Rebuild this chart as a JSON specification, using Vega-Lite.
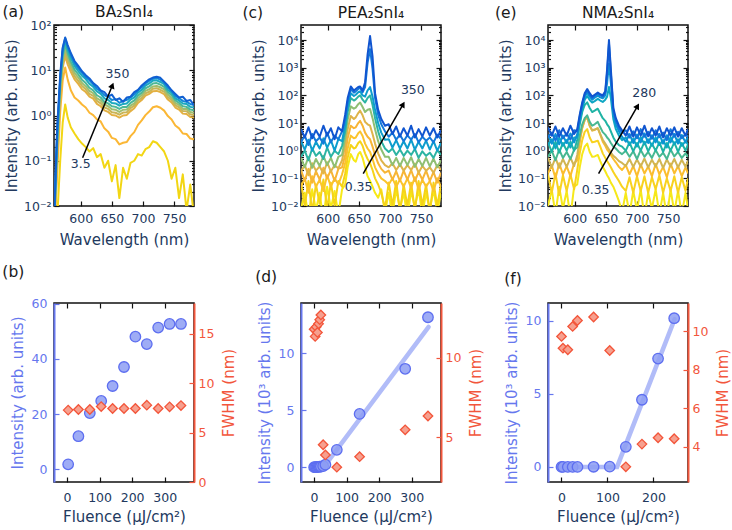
{
"$schema":"https://vega.github.io/schema/vega-lite/v6.json",
"background":"white",
"padding":{"left":1,"top":4,"right":4,"bottom":2},
"config":{"font":"DejaVu Sans","view":{"stroke":"#111","strokeWidth":1.5},
"axis":{"grid":false,"domain":false,"labelFontSize":12.5,"titleFontSize":15,"titleFontWeight":"normal","labelColor":"#22395e","titleColor":"#22395e","tickColor":"#111","tickWidth":1.2}},
"datasets":{
"A":[
{"k":0,"w":557,"i":0.001},{"k":0,"w":562,"i":0.005},{"k":0,"w":567,"i":0.1},{"k":0,"w":571,"i":0.7},{"k":0,"w":575,"i":1.75},{"k":0,"w":579,"i":0.9},{"k":0,"w":584,"i":0.55},{"k":0,"w":590,"i":0.4},{"k":0,"w":596,"i":0.3},{"k":0,"w":602,"i":0.24},{"k":0,"w":608,"i":0.2},{"k":0,"w":614,"i":0.16},{"k":0,"w":620,"i":0.19},{"k":0,"w":626,"i":0.12},{"k":0,"w":632,"i":0.14},{"k":0,"w":638,"i":0.07},{"k":0,"w":644,"i":0.1},{"k":0,"w":650,"i":0.035},{"k":0,"w":656,"i":0.08},{"k":0,"w":662,"i":0.015},{"k":0,"w":668,"i":0.07},{"k":0,"w":674,"i":0.04},{"k":0,"w":680,"i":0.09},{"k":0,"w":686,"i":0.1},{"k":0,"w":692,"i":0.14},{"k":0,"w":698,"i":0.13},{"k":0,"w":704,"i":0.18},{"k":0,"w":710,"i":0.2},{"k":0,"w":716,"i":0.27},{"k":0,"w":722,"i":0.25},{"k":0,"w":728,"i":0.2},{"k":0,"w":734,"i":0.16},{"k":0,"w":740,"i":0.1},{"k":0,"w":746,"i":0.04},{"k":0,"w":752,"i":0.07},{"k":0,"w":758,"i":0.015},{"k":0,"w":764,"i":0.05},{"k":0,"w":770,"i":0.008},{"k":0,"w":776,"i":0.03},{"k":0,"w":782,"i":0.006},
{"k":1,"w":557,"i":0.002},{"k":1,"w":562,"i":0.05},{"k":1,"w":567,"i":1.2},{"k":1,"w":571,"i":6},{"k":1,"w":575,"i":11.5},{"k":1,"w":579,"i":6.2},{"k":1,"w":584,"i":3.6},{"k":1,"w":590,"i":2.5},{"k":1,"w":596,"i":2.15},{"k":1,"w":602,"i":1.75},{"k":1,"w":608,"i":1.5},{"k":1,"w":614,"i":1.15},{"k":1,"w":620,"i":1.02},{"k":1,"w":626,"i":0.82},{"k":1,"w":632,"i":0.74},{"k":1,"w":638,"i":0.52},{"k":1,"w":644,"i":0.44},{"k":1,"w":650,"i":0.32},{"k":1,"w":656,"i":0.3},{"k":1,"w":662,"i":0.23},{"k":1,"w":668,"i":0.25},{"k":1,"w":674,"i":0.26},{"k":1,"w":680,"i":0.35},{"k":1,"w":686,"i":0.43},{"k":1,"w":692,"i":0.62},{"k":1,"w":698,"i":0.78},{"k":1,"w":704,"i":1.02},{"k":1,"w":710,"i":1.22},{"k":1,"w":716,"i":1.52},{"k":1,"w":722,"i":1.6},{"k":1,"w":728,"i":1.48},{"k":1,"w":734,"i":1.28},{"k":1,"w":740,"i":0.97},{"k":1,"w":746,"i":0.82},{"k":1,"w":752,"i":0.6},{"k":1,"w":758,"i":0.52},{"k":1,"w":764,"i":0.4},{"k":1,"w":770,"i":0.39},{"k":1,"w":776,"i":0.31},{"k":1,"w":782,"i":0.3},
{"k":2,"w":557,"i":0.002},{"k":2,"w":562,"i":0.12},{"k":2,"w":567,"i":2.6},{"k":2,"w":571,"i":11.5},{"k":2,"w":575,"i":20.5},{"k":2,"w":579,"i":13.5},{"k":2,"w":584,"i":9.2},{"k":2,"w":590,"i":6.3},{"k":2,"w":596,"i":5.0},{"k":2,"w":602,"i":3.8},{"k":2,"w":608,"i":3.3},{"k":2,"w":614,"i":2.6},{"k":2,"w":620,"i":2.35},{"k":2,"w":626,"i":1.8},{"k":2,"w":632,"i":1.6},{"k":2,"w":638,"i":1.3},{"k":2,"w":644,"i":1.2},{"k":2,"w":650,"i":1.02},{"k":2,"w":656,"i":1.0},{"k":2,"w":662,"i":0.9},{"k":2,"w":668,"i":1.0},{"k":2,"w":674,"i":1.03},{"k":2,"w":680,"i":1.25},{"k":2,"w":686,"i":1.45},{"k":2,"w":692,"i":1.9},{"k":2,"w":698,"i":2.2},{"k":2,"w":704,"i":2.75},{"k":2,"w":710,"i":3.0},{"k":2,"w":716,"i":3.45},{"k":2,"w":722,"i":3.5},{"k":2,"w":728,"i":3.3},{"k":2,"w":734,"i":2.95},{"k":2,"w":740,"i":2.25},{"k":2,"w":746,"i":1.95},{"k":2,"w":752,"i":1.5},{"k":2,"w":758,"i":1.35},{"k":2,"w":764,"i":1.1},{"k":2,"w":770,"i":1.08},{"k":2,"w":776,"i":0.93},{"k":2,"w":782,"i":0.9},
{"k":3,"w":557,"i":0.003},{"k":3,"w":562,"i":0.15},{"k":3,"w":567,"i":3.2},{"k":3,"w":571,"i":14},{"k":3,"w":575,"i":25},{"k":3,"w":579,"i":16.5},{"k":3,"w":584,"i":11},{"k":3,"w":590,"i":7.4},{"k":3,"w":596,"i":5.8},{"k":3,"w":602,"i":4.5},{"k":3,"w":608,"i":3.8},{"k":3,"w":614,"i":3.0},{"k":3,"w":620,"i":2.7},{"k":3,"w":626,"i":2.1},{"k":3,"w":632,"i":1.85},{"k":3,"w":638,"i":1.5},{"k":3,"w":644,"i":1.4},{"k":3,"w":650,"i":1.18},{"k":3,"w":656,"i":1.15},{"k":3,"w":662,"i":1.04},{"k":3,"w":668,"i":1.16},{"k":3,"w":674,"i":1.18},{"k":3,"w":680,"i":1.45},{"k":3,"w":686,"i":1.65},{"k":3,"w":692,"i":2.15},{"k":3,"w":698,"i":2.45},{"k":3,"w":704,"i":3.1},{"k":3,"w":710,"i":3.35},{"k":3,"w":716,"i":3.9},{"k":3,"w":722,"i":4.0},{"k":3,"w":728,"i":3.7},{"k":3,"w":734,"i":3.35},{"k":3,"w":740,"i":2.55},{"k":3,"w":746,"i":2.2},{"k":3,"w":752,"i":1.7},{"k":3,"w":758,"i":1.52},{"k":3,"w":764,"i":1.25},{"k":3,"w":770,"i":1.24},{"k":3,"w":776,"i":1.06},{"k":3,"w":782,"i":1.02},
{"k":4,"w":557,"i":0.003},{"k":4,"w":562,"i":0.2},{"k":4,"w":567,"i":4},{"k":4,"w":571,"i":17},{"k":4,"w":575,"i":30},{"k":4,"w":579,"i":19.5},{"k":4,"w":584,"i":13},{"k":4,"w":590,"i":8.7},{"k":4,"w":596,"i":6.9},{"k":4,"w":602,"i":5.2},{"k":4,"w":608,"i":4.4},{"k":4,"w":614,"i":3.5},{"k":4,"w":620,"i":3.1},{"k":4,"w":626,"i":2.4},{"k":4,"w":632,"i":2.15},{"k":4,"w":638,"i":1.75},{"k":4,"w":644,"i":1.6},{"k":4,"w":650,"i":1.38},{"k":4,"w":656,"i":1.34},{"k":4,"w":662,"i":1.2},{"k":4,"w":668,"i":1.34},{"k":4,"w":674,"i":1.36},{"k":4,"w":680,"i":1.65},{"k":4,"w":686,"i":1.85},{"k":4,"w":692,"i":2.4},{"k":4,"w":698,"i":2.8},{"k":4,"w":704,"i":3.5},{"k":4,"w":710,"i":3.8},{"k":4,"w":716,"i":4.4},{"k":4,"w":722,"i":4.5},{"k":4,"w":728,"i":4.2},{"k":4,"w":734,"i":3.8},{"k":4,"w":740,"i":2.9},{"k":4,"w":746,"i":2.45},{"k":4,"w":752,"i":1.9},{"k":4,"w":758,"i":1.7},{"k":4,"w":764,"i":1.4},{"k":4,"w":770,"i":1.4},{"k":4,"w":776,"i":1.2},{"k":4,"w":782,"i":1.15},
{"k":5,"w":557,"i":0.003},{"k":5,"w":562,"i":0.25},{"k":5,"w":567,"i":5},{"k":5,"w":571,"i":21},{"k":5,"w":575,"i":37},{"k":5,"w":579,"i":24},{"k":5,"w":584,"i":15.5},{"k":5,"w":590,"i":10.3},{"k":5,"w":596,"i":8.1},{"k":5,"w":602,"i":6.2},{"k":5,"w":608,"i":5.2},{"k":5,"w":614,"i":4.1},{"k":5,"w":620,"i":3.6},{"k":5,"w":626,"i":2.8},{"k":5,"w":632,"i":2.5},{"k":5,"w":638,"i":2.0},{"k":5,"w":644,"i":1.85},{"k":5,"w":650,"i":1.6},{"k":5,"w":656,"i":1.55},{"k":5,"w":662,"i":1.4},{"k":5,"w":668,"i":1.55},{"k":5,"w":674,"i":1.55},{"k":5,"w":680,"i":1.9},{"k":5,"w":686,"i":2.15},{"k":5,"w":692,"i":2.75},{"k":5,"w":698,"i":3.2},{"k":5,"w":704,"i":4.0},{"k":5,"w":710,"i":4.4},{"k":5,"w":716,"i":5.1},{"k":5,"w":722,"i":5.2},{"k":5,"w":728,"i":4.8},{"k":5,"w":734,"i":4.3},{"k":5,"w":740,"i":3.3},{"k":5,"w":746,"i":2.8},{"k":5,"w":752,"i":2.15},{"k":5,"w":758,"i":1.9},{"k":5,"w":764,"i":1.6},{"k":5,"w":770,"i":1.55},{"k":5,"w":776,"i":1.35},{"k":5,"w":782,"i":1.3},
{"k":6,"w":557,"i":0.004},{"k":6,"w":562,"i":0.3},{"k":6,"w":567,"i":6},{"k":6,"w":571,"i":26},{"k":6,"w":575,"i":45},{"k":6,"w":579,"i":29},{"k":6,"w":584,"i":19},{"k":6,"w":590,"i":12.5},{"k":6,"w":596,"i":9.6},{"k":6,"w":602,"i":7.6},{"k":6,"w":608,"i":6.4},{"k":6,"w":614,"i":5.0},{"k":6,"w":620,"i":4.3},{"k":6,"w":626,"i":3.4},{"k":6,"w":632,"i":3.0},{"k":6,"w":638,"i":2.4},{"k":6,"w":644,"i":2.2},{"k":6,"w":650,"i":1.9},{"k":6,"w":656,"i":1.85},{"k":6,"w":662,"i":1.65},{"k":6,"w":668,"i":1.8},{"k":6,"w":674,"i":1.85},{"k":6,"w":680,"i":2.25},{"k":6,"w":686,"i":2.5},{"k":6,"w":692,"i":3.2},{"k":6,"w":698,"i":3.7},{"k":6,"w":704,"i":4.6},{"k":6,"w":710,"i":5.1},{"k":6,"w":716,"i":5.9},{"k":6,"w":722,"i":6.0},{"k":6,"w":728,"i":5.5},{"k":6,"w":734,"i":4.9},{"k":6,"w":740,"i":3.7},{"k":6,"w":746,"i":3.2},{"k":6,"w":752,"i":2.4},{"k":6,"w":758,"i":2.15},{"k":6,"w":764,"i":1.85},{"k":6,"w":770,"i":1.8},{"k":6,"w":776,"i":1.55},{"k":6,"w":782,"i":1.5},
{"k":7,"w":557,"i":0.004},{"k":7,"w":562,"i":0.4},{"k":7,"w":567,"i":7},{"k":7,"w":571,"i":30},{"k":7,"w":575,"i":51},{"k":7,"w":579,"i":33},{"k":7,"w":584,"i":22},{"k":7,"w":590,"i":14.5},{"k":7,"w":596,"i":11},{"k":7,"w":602,"i":8.8},{"k":7,"w":608,"i":7},{"k":7,"w":614,"i":6.0},{"k":7,"w":620,"i":4.9},{"k":7,"w":626,"i":3.9},{"k":7,"w":632,"i":3.4},{"k":7,"w":638,"i":2.8},{"k":7,"w":644,"i":2.6},{"k":7,"w":650,"i":2.2},{"k":7,"w":656,"i":2.3},{"k":7,"w":662,"i":1.9},{"k":7,"w":668,"i":2.1},{"k":7,"w":674,"i":2.2},{"k":7,"w":680,"i":2.5},{"k":7,"w":686,"i":2.9},{"k":7,"w":692,"i":3.6},{"k":7,"w":698,"i":4.2},{"k":7,"w":704,"i":5.1},{"k":7,"w":710,"i":5.8},{"k":7,"w":716,"i":6.5},{"k":7,"w":722,"i":6.7},{"k":7,"w":728,"i":6.2},{"k":7,"w":734,"i":5.3},{"k":7,"w":740,"i":4.2},{"k":7,"w":746,"i":3.5},{"k":7,"w":752,"i":2.7},{"k":7,"w":758,"i":2.4},{"k":7,"w":764,"i":2.1},{"k":7,"w":770,"i":2.0},{"k":7,"w":776,"i":1.8},{"k":7,"w":782,"i":1.7},
{"k":8,"w":557,"i":0.005},{"k":8,"w":562,"i":0.5},{"k":8,"w":567,"i":8},{"k":8,"w":571,"i":32},{"k":8,"w":575,"i":53},{"k":8,"w":579,"i":36},{"k":8,"w":584,"i":24},{"k":8,"w":590,"i":16},{"k":8,"w":596,"i":12.5},{"k":8,"w":602,"i":9.5},{"k":8,"w":608,"i":7.8},{"k":8,"w":614,"i":6.6},{"k":8,"w":620,"i":5.2},{"k":8,"w":626,"i":4.5},{"k":8,"w":632,"i":3.6},{"k":8,"w":638,"i":3.3},{"k":8,"w":644,"i":2.6},{"k":8,"w":650,"i":2.9},{"k":8,"w":656,"i":2.2},{"k":8,"w":662,"i":2.4},{"k":8,"w":668,"i":2.0},{"k":8,"w":674,"i":2.5},{"k":8,"w":680,"i":2.6},{"k":8,"w":686,"i":3.3},{"k":8,"w":692,"i":3.7},{"k":8,"w":698,"i":4.6},{"k":8,"w":704,"i":5.4},{"k":8,"w":710,"i":6.3},{"k":8,"w":716,"i":6.9},{"k":8,"w":722,"i":7.2},{"k":8,"w":728,"i":6.8},{"k":8,"w":734,"i":5.6},{"k":8,"w":740,"i":4.6},{"k":8,"w":746,"i":3.6},{"k":8,"w":752,"i":3.0},{"k":8,"w":758,"i":2.5},{"k":8,"w":764,"i":2.6},{"k":8,"w":770,"i":2.1},{"k":8,"w":776,"i":2.2},{"k":8,"w":782,"i":1.7}
],
"C":[
{"k":0,"w":557,"i":0.008},{"k":0,"w":563,"i":0.03},{"k":0,"w":569,"i":0.004},{"k":0,"w":575,"i":0.04},{"k":0,"w":581,"i":0.007},{"k":0,"w":587,"i":0.03},{"k":0,"w":593,"i":0.003},{"k":0,"w":599,"i":0.05},{"k":0,"w":605,"i":0.008},{"k":0,"w":611,"i":0.035},{"k":0,"w":617,"i":0.005},{"k":0,"w":623,"i":0.04},{"k":0,"w":628,"i":0.06},{"k":0,"w":632,"i":0.25},{"k":0,"w":637,"i":0.75},{"k":0,"w":642,"i":0.45},{"k":0,"w":645,"i":0.4},{"k":0,"w":649,"i":0.75},{"k":0,"w":652,"i":0.9},{"k":0,"w":656,"i":0.55},{"k":0,"w":660,"i":0.25},{"k":0,"w":664,"i":0.12},{"k":0,"w":668,"i":0.08},{"k":0,"w":672,"i":0.05},{"k":0,"w":676,"i":0.03},{"k":0,"w":681,"i":0.02},{"k":0,"w":686,"i":0.04},{"k":0,"w":692,"i":0.006},{"k":0,"w":698,"i":0.03},{"k":0,"w":704,"i":0.005},{"k":0,"w":710,"i":0.04},{"k":0,"w":716,"i":0.008},{"k":0,"w":722,"i":0.03},{"k":0,"w":728,"i":0.004},{"k":0,"w":734,"i":0.035},{"k":0,"w":740,"i":0.009},{"k":0,"w":746,"i":0.04},{"k":0,"w":752,"i":0.005},{"k":0,"w":758,"i":0.03},{"k":0,"w":764,"i":0.007},{"k":0,"w":770,"i":0.04},{"k":0,"w":776,"i":0.006},{"k":0,"w":782,"i":0.03},
{"k":1,"w":557,"i":0.07},{"k":1,"w":563,"i":0.01},{"k":1,"w":569,"i":0.08},{"k":1,"w":575,"i":0.006},{"k":1,"w":581,"i":0.06},{"k":1,"w":587,"i":0.012},{"k":1,"w":593,"i":0.09},{"k":1,"w":599,"i":0.008},{"k":1,"w":605,"i":0.07},{"k":1,"w":611,"i":0.01},{"k":1,"w":617,"i":0.08},{"k":1,"w":623,"i":0.05},{"k":1,"w":628,"i":0.15},{"k":1,"w":632,"i":0.55},{"k":1,"w":637,"i":1.6},{"k":1,"w":642,"i":1.2},{"k":1,"w":645,"i":1.3},{"k":1,"w":649,"i":1.9},{"k":1,"w":652,"i":2.2},{"k":1,"w":656,"i":1.5},{"k":1,"w":660,"i":0.8},{"k":1,"w":664,"i":0.5},{"k":1,"w":668,"i":0.35},{"k":1,"w":672,"i":0.2},{"k":1,"w":676,"i":0.1},{"k":1,"w":681,"i":0.06},{"k":1,"w":686,"i":0.03},{"k":1,"w":692,"i":0.008},{"k":1,"w":698,"i":0.07},{"k":1,"w":704,"i":0.01},{"k":1,"w":710,"i":0.08},{"k":1,"w":716,"i":0.006},{"k":1,"w":722,"i":0.06},{"k":1,"w":728,"i":0.01},{"k":1,"w":734,"i":0.07},{"k":1,"w":740,"i":0.007},{"k":1,"w":746,"i":0.08},{"k":1,"w":752,"i":0.01},{"k":1,"w":758,"i":0.06},{"k":1,"w":764,"i":0.006},{"k":1,"w":770,"i":0.07},{"k":1,"w":776,"i":0.01},{"k":1,"w":782,"i":0.06},
{"k":2,"w":557,"i":0.05},{"k":2,"w":563,"i":0.1},{"k":2,"w":569,"i":0.03},{"k":2,"w":575,"i":0.12},{"k":2,"w":581,"i":0.05},{"k":2,"w":587,"i":0.09},{"k":2,"w":593,"i":0.035},{"k":2,"w":599,"i":0.13},{"k":2,"w":605,"i":0.05},{"k":2,"w":611,"i":0.1},{"k":2,"w":617,"i":0.06},{"k":2,"w":623,"i":0.14},{"k":2,"w":628,"i":0.35},{"k":2,"w":632,"i":1.2},{"k":2,"w":637,"i":3.5},{"k":2,"w":642,"i":2.8},{"k":2,"w":645,"i":3.0},{"k":2,"w":649,"i":4.3},{"k":2,"w":652,"i":5},{"k":2,"w":656,"i":3.4},{"k":2,"w":660,"i":1.8},{"k":2,"w":664,"i":1.2},{"k":2,"w":668,"i":0.9},{"k":2,"w":672,"i":0.5},{"k":2,"w":676,"i":0.25},{"k":2,"w":681,"i":0.15},{"k":2,"w":686,"i":0.1},{"k":2,"w":692,"i":0.08},{"k":2,"w":698,"i":0.06},{"k":2,"w":704,"i":0.1},{"k":2,"w":710,"i":0.05},{"k":2,"w":716,"i":0.09},{"k":2,"w":722,"i":0.05},{"k":2,"w":728,"i":0.1},{"k":2,"w":734,"i":0.045},{"k":2,"w":740,"i":0.11},{"k":2,"w":746,"i":0.04},{"k":2,"w":752,"i":0.09},{"k":2,"w":758,"i":0.05},{"k":2,"w":764,"i":0.08},{"k":2,"w":770,"i":0.035},{"k":2,"w":776,"i":0.1},{"k":2,"w":782,"i":0.05},
{"k":3,"w":557,"i":0.2},{"k":3,"w":563,"i":0.08},{"k":3,"w":569,"i":0.22},{"k":3,"w":575,"i":0.07},{"k":3,"w":581,"i":0.18},{"k":3,"w":587,"i":0.09},{"k":3,"w":593,"i":0.24},{"k":3,"w":599,"i":0.1},{"k":3,"w":605,"i":0.2},{"k":3,"w":611,"i":0.08},{"k":3,"w":617,"i":0.22},{"k":3,"w":623,"i":0.25},{"k":3,"w":628,"i":0.7},{"k":3,"w":632,"i":2.8},{"k":3,"w":637,"i":8},{"k":3,"w":642,"i":6.5},{"k":3,"w":645,"i":7},{"k":3,"w":649,"i":10},{"k":3,"w":652,"i":12},{"k":3,"w":656,"i":8},{"k":3,"w":660,"i":4.5},{"k":3,"w":664,"i":3.2},{"k":3,"w":668,"i":2.6},{"k":3,"w":672,"i":1.4},{"k":3,"w":676,"i":0.7},{"k":3,"w":681,"i":0.35},{"k":3,"w":686,"i":0.22},{"k":3,"w":692,"i":0.16},{"k":3,"w":698,"i":0.19},{"k":3,"w":704,"i":0.09},{"k":3,"w":710,"i":0.18},{"k":3,"w":716,"i":0.08},{"k":3,"w":722,"i":0.19},{"k":3,"w":728,"i":0.09},{"k":3,"w":734,"i":0.2},{"k":3,"w":740,"i":0.08},{"k":3,"w":746,"i":0.17},{"k":3,"w":752,"i":0.09},{"k":3,"w":758,"i":0.19},{"k":3,"w":764,"i":0.08},{"k":3,"w":770,"i":0.17},{"k":3,"w":776,"i":0.07},{"k":3,"w":782,"i":0.16},
{"k":4,"w":557,"i":0.18},{"k":4,"w":563,"i":0.3},{"k":4,"w":569,"i":0.13},{"k":4,"w":575,"i":0.35},{"k":4,"w":581,"i":0.19},{"k":4,"w":587,"i":0.27},{"k":4,"w":593,"i":0.15},{"k":4,"w":599,"i":0.38},{"k":4,"w":605,"i":0.18},{"k":4,"w":611,"i":0.3},{"k":4,"w":617,"i":0.23},{"k":4,"w":623,"i":0.45},{"k":4,"w":628,"i":1.5},{"k":4,"w":632,"i":6},{"k":4,"w":637,"i":18},{"k":4,"w":642,"i":14},{"k":4,"w":645,"i":16},{"k":4,"w":649,"i":23},{"k":4,"w":652,"i":28},{"k":4,"w":656,"i":19},{"k":4,"w":660,"i":11},{"k":4,"w":664,"i":9},{"k":4,"w":668,"i":8},{"k":4,"w":672,"i":4},{"k":4,"w":676,"i":1.8},{"k":4,"w":681,"i":0.8},{"k":4,"w":686,"i":0.45},{"k":4,"w":692,"i":0.3},{"k":4,"w":698,"i":0.25},{"k":4,"w":704,"i":0.35},{"k":4,"w":710,"i":0.2},{"k":4,"w":716,"i":0.32},{"k":4,"w":722,"i":0.19},{"k":4,"w":728,"i":0.3},{"k":4,"w":734,"i":0.2},{"k":4,"w":740,"i":0.34},{"k":4,"w":746,"i":0.16},{"k":4,"w":752,"i":0.28},{"k":4,"w":758,"i":0.19},{"k":4,"w":764,"i":0.25},{"k":4,"w":770,"i":0.16},{"k":4,"w":776,"i":0.3},{"k":4,"w":782,"i":0.2},
{"k":5,"w":557,"i":0.55},{"k":5,"w":563,"i":0.25},{"k":5,"w":569,"i":0.6},{"k":5,"w":575,"i":0.24},{"k":5,"w":581,"i":0.5},{"k":5,"w":587,"i":0.28},{"k":5,"w":593,"i":0.65},{"k":5,"w":599,"i":0.3},{"k":5,"w":605,"i":0.55},{"k":5,"w":611,"i":0.25},{"k":5,"w":617,"i":0.6},{"k":5,"w":623,"i":0.7},{"k":5,"w":628,"i":3},{"k":5,"w":632,"i":13},{"k":5,"w":637,"i":40},{"k":5,"w":642,"i":33},{"k":5,"w":645,"i":36},{"k":5,"w":649,"i":48},{"k":5,"w":652,"i":55},{"k":5,"w":656,"i":38},{"k":5,"w":660,"i":25},{"k":5,"w":664,"i":30},{"k":5,"w":668,"i":32},{"k":5,"w":672,"i":15},{"k":5,"w":676,"i":6},{"k":5,"w":681,"i":2.2},{"k":5,"w":686,"i":1.1},{"k":5,"w":692,"i":0.6},{"k":5,"w":698,"i":0.6},{"k":5,"w":704,"i":0.3},{"k":5,"w":710,"i":0.55},{"k":5,"w":716,"i":0.28},{"k":5,"w":722,"i":0.55},{"k":5,"w":728,"i":0.3},{"k":5,"w":734,"i":0.58},{"k":5,"w":740,"i":0.26},{"k":5,"w":746,"i":0.5},{"k":5,"w":752,"i":0.28},{"k":5,"w":758,"i":0.55},{"k":5,"w":764,"i":0.27},{"k":5,"w":770,"i":0.52},{"k":5,"w":776,"i":0.25},{"k":5,"w":782,"i":0.45},
{"k":6,"w":557,"i":0.6},{"k":6,"w":563,"i":1.0},{"k":6,"w":569,"i":0.45},{"k":6,"w":575,"i":1.2},{"k":6,"w":581,"i":0.65},{"k":6,"w":587,"i":0.9},{"k":6,"w":593,"i":0.5},{"k":6,"w":599,"i":1.3},{"k":6,"w":605,"i":0.6},{"k":6,"w":611,"i":1.0},{"k":6,"w":617,"i":0.75},{"k":6,"w":623,"i":1.5},{"k":6,"w":628,"i":5},{"k":6,"w":632,"i":25},{"k":6,"w":637,"i":80},{"k":6,"w":642,"i":65},{"k":6,"w":645,"i":72},{"k":6,"w":649,"i":90},{"k":6,"w":652,"i":100},{"k":6,"w":656,"i":70},{"k":6,"w":660,"i":55},{"k":6,"w":664,"i":80},{"k":6,"w":668,"i":100},{"k":6,"w":672,"i":45},{"k":6,"w":676,"i":15},{"k":6,"w":681,"i":5},{"k":6,"w":686,"i":2.2},{"k":6,"w":692,"i":1.2},{"k":6,"w":698,"i":0.9},{"k":6,"w":704,"i":1.2},{"k":6,"w":710,"i":0.7},{"k":6,"w":716,"i":1.1},{"k":6,"w":722,"i":0.65},{"k":6,"w":728,"i":1.0},{"k":6,"w":734,"i":0.7},{"k":6,"w":740,"i":1.15},{"k":6,"w":746,"i":0.55},{"k":6,"w":752,"i":0.95},{"k":6,"w":758,"i":0.65},{"k":6,"w":764,"i":0.85},{"k":6,"w":770,"i":0.55},{"k":6,"w":776,"i":1.05},{"k":6,"w":782,"i":0.7},
{"k":7,"w":557,"i":2.2},{"k":7,"w":563,"i":1.1},{"k":7,"w":569,"i":2.5},{"k":7,"w":575,"i":1.0},{"k":7,"w":581,"i":2.1},{"k":7,"w":587,"i":1.2},{"k":7,"w":593,"i":2.8},{"k":7,"w":599,"i":1.3},{"k":7,"w":605,"i":2.4},{"k":7,"w":611,"i":1.0},{"k":7,"w":617,"i":2.6},{"k":7,"w":623,"i":2.2},{"k":7,"w":628,"i":9},{"k":7,"w":632,"i":40},{"k":7,"w":637,"i":120},{"k":7,"w":642,"i":95},{"k":7,"w":645,"i":105},{"k":7,"w":649,"i":130},{"k":7,"w":652,"i":140},{"k":7,"w":656,"i":100},{"k":7,"w":660,"i":90},{"k":7,"w":664,"i":150},{"k":7,"w":668,"i":200},{"k":7,"w":672,"i":90},{"k":7,"w":676,"i":30},{"k":7,"w":681,"i":10},{"k":7,"w":686,"i":4.5},{"k":7,"w":692,"i":2.5},{"k":7,"w":698,"i":2.6},{"k":7,"w":704,"i":1.3},{"k":7,"w":710,"i":2.4},{"k":7,"w":716,"i":1.2},{"k":7,"w":722,"i":2.2},{"k":7,"w":728,"i":1.2},{"k":7,"w":734,"i":2.5},{"k":7,"w":740,"i":1.1},{"k":7,"w":746,"i":2.1},{"k":7,"w":752,"i":1.2},{"k":7,"w":758,"i":2.3},{"k":7,"w":764,"i":1.1},{"k":7,"w":770,"i":2.2},{"k":7,"w":776,"i":1.0},{"k":7,"w":782,"i":1.9},
{"k":8,"w":557,"i":2},{"k":8,"w":563,"i":3.5},{"k":8,"w":569,"i":1.6},{"k":8,"w":575,"i":4},{"k":8,"w":581,"i":2.2},{"k":8,"w":587,"i":3},{"k":8,"w":593,"i":1.8},{"k":8,"w":599,"i":4.5},{"k":8,"w":605,"i":2},{"k":8,"w":611,"i":3.5},{"k":8,"w":617,"i":2.6},{"k":8,"w":623,"i":5},{"k":8,"w":628,"i":14},{"k":8,"w":632,"i":60},{"k":8,"w":637,"i":170},{"k":8,"w":642,"i":125},{"k":8,"w":645,"i":140},{"k":8,"w":649,"i":170},{"k":8,"w":652,"i":190},{"k":8,"w":656,"i":130},{"k":8,"w":660,"i":200},{"k":8,"w":664,"i":1500},{"k":8,"w":668,"i":4700},{"k":8,"w":672,"i":900},{"k":8,"w":676,"i":80},{"k":8,"w":681,"i":20},{"k":8,"w":686,"i":9},{"k":8,"w":692,"i":5},{"k":8,"w":698,"i":3.2},{"k":8,"w":704,"i":4.5},{"k":8,"w":710,"i":2.5},{"k":8,"w":716,"i":3.8},{"k":8,"w":722,"i":2.2},{"k":8,"w":728,"i":3.6},{"k":8,"w":734,"i":2.5},{"k":8,"w":740,"i":4},{"k":8,"w":746,"i":2},{"k":8,"w":752,"i":3.2},{"k":8,"w":758,"i":2.3},{"k":8,"w":764,"i":3},{"k":8,"w":770,"i":2},{"k":8,"w":776,"i":3.8},{"k":8,"w":782,"i":2.6},
{"k":9,"w":557,"i":6},{"k":9,"w":563,"i":3},{"k":9,"w":569,"i":7},{"k":9,"w":575,"i":2.8},{"k":9,"w":581,"i":5.5},{"k":9,"w":587,"i":3.2},{"k":9,"w":593,"i":8},{"k":9,"w":599,"i":3.5},{"k":9,"w":605,"i":6.5},{"k":9,"w":611,"i":2.6},{"k":9,"w":617,"i":7},{"k":9,"w":623,"i":5},{"k":9,"w":628,"i":20},{"k":9,"w":632,"i":80},{"k":9,"w":637,"i":210},{"k":9,"w":642,"i":150},{"k":9,"w":645,"i":170},{"k":9,"w":649,"i":200},{"k":9,"w":652,"i":210},{"k":9,"w":656,"i":150},{"k":9,"w":660,"i":300},{"k":9,"w":664,"i":3000},{"k":9,"w":668,"i":14000},{"k":9,"w":672,"i":2500},{"k":9,"w":676,"i":120},{"k":9,"w":681,"i":30},{"k":9,"w":686,"i":14},{"k":9,"w":692,"i":8},{"k":9,"w":698,"i":9},{"k":9,"w":704,"i":4},{"k":9,"w":710,"i":7.5},{"k":9,"w":716,"i":3.2},{"k":9,"w":722,"i":6.5},{"k":9,"w":728,"i":3.5},{"k":9,"w":734,"i":8},{"k":9,"w":740,"i":3},{"k":9,"w":746,"i":6},{"k":9,"w":752,"i":3.3},{"k":9,"w":758,"i":7},{"k":9,"w":764,"i":3.5},{"k":9,"w":770,"i":6.5},{"k":9,"w":776,"i":3},{"k":9,"w":782,"i":5.5}
],
"E":[
{"k":0,"w":557,"i":0.01},{"k":0,"w":563,"i":0.04},{"k":0,"w":569,"i":0.005},{"k":0,"w":575,"i":0.05},{"k":0,"w":581,"i":0.008},{"k":0,"w":587,"i":0.035},{"k":0,"w":593,"i":0.004},{"k":0,"w":599,"i":0.05},{"k":0,"w":604,"i":0.06},{"k":0,"w":608,"i":0.25},{"k":0,"w":612,"i":0.75},{"k":0,"w":616,"i":1.4},{"k":0,"w":620,"i":1.8},{"k":0,"w":624,"i":0.9},{"k":0,"w":628,"i":0.6},{"k":0,"w":632,"i":0.62},{"k":0,"w":637,"i":0.7},{"k":0,"w":641,"i":0.42},{"k":0,"w":645,"i":0.26},{"k":0,"w":649,"i":0.18},{"k":0,"w":652,"i":0.13},{"k":0,"w":655,"i":0.1},{"k":0,"w":658,"i":0.07},{"k":0,"w":662,"i":0.05},{"k":0,"w":666,"i":0.03},{"k":0,"w":671,"i":0.015},{"k":0,"w":676,"i":0.006},{"k":0,"w":682,"i":0.03},{"k":0,"w":688,"i":0.005},{"k":0,"w":694,"i":0.035},{"k":0,"w":700,"i":0.007},{"k":0,"w":706,"i":0.04},{"k":0,"w":712,"i":0.004},{"k":0,"w":718,"i":0.03},{"k":0,"w":724,"i":0.008},{"k":0,"w":730,"i":0.04},{"k":0,"w":736,"i":0.005},{"k":0,"w":742,"i":0.03},{"k":0,"w":748,"i":0.004},{"k":0,"w":754,"i":0.04},{"k":0,"w":760,"i":0.006},{"k":0,"w":766,"i":0.035},{"k":0,"w":772,"i":0.005},{"k":0,"w":778,"i":0.03},{"k":0,"w":782,"i":0.008},
{"k":1,"w":557,"i":0.14},{"k":1,"w":563,"i":0.03},{"k":1,"w":569,"i":0.15},{"k":1,"w":575,"i":0.025},{"k":1,"w":581,"i":0.13},{"k":1,"w":587,"i":0.035},{"k":1,"w":593,"i":0.14},{"k":1,"w":599,"i":0.04},{"k":1,"w":604,"i":0.2},{"k":1,"w":608,"i":0.8},{"k":1,"w":612,"i":2.4},{"k":1,"w":616,"i":4.8},{"k":1,"w":620,"i":6},{"k":1,"w":624,"i":3},{"k":1,"w":628,"i":2},{"k":1,"w":632,"i":2.1},{"k":1,"w":637,"i":2.3},{"k":1,"w":641,"i":1.4},{"k":1,"w":645,"i":0.8},{"k":1,"w":649,"i":0.55},{"k":1,"w":652,"i":0.42},{"k":1,"w":655,"i":0.33},{"k":1,"w":658,"i":0.25},{"k":1,"w":662,"i":0.17},{"k":1,"w":666,"i":0.12},{"k":1,"w":671,"i":0.08},{"k":1,"w":676,"i":0.05},{"k":1,"w":682,"i":0.035},{"k":1,"w":688,"i":0.11},{"k":1,"w":694,"i":0.03},{"k":1,"w":700,"i":0.12},{"k":1,"w":706,"i":0.035},{"k":1,"w":712,"i":0.12},{"k":1,"w":718,"i":0.03},{"k":1,"w":724,"i":0.11},{"k":1,"w":730,"i":0.04},{"k":1,"w":736,"i":0.13},{"k":1,"w":742,"i":0.03},{"k":1,"w":748,"i":0.1},{"k":1,"w":754,"i":0.035},{"k":1,"w":760,"i":0.12},{"k":1,"w":766,"i":0.03},{"k":1,"w":772,"i":0.11},{"k":1,"w":778,"i":0.035},{"k":1,"w":782,"i":0.1},
{"k":2,"w":557,"i":0.15},{"k":2,"w":563,"i":0.3},{"k":2,"w":569,"i":0.1},{"k":2,"w":575,"i":0.35},{"k":2,"w":581,"i":0.14},{"k":2,"w":587,"i":0.27},{"k":2,"w":593,"i":0.12},{"k":2,"w":599,"i":0.35},{"k":2,"w":604,"i":0.45},{"k":2,"w":608,"i":2},{"k":2,"w":612,"i":6.5},{"k":2,"w":616,"i":13},{"k":2,"w":620,"i":17},{"k":2,"w":624,"i":8},{"k":2,"w":628,"i":5.3},{"k":2,"w":632,"i":5.6},{"k":2,"w":637,"i":6.5},{"k":2,"w":641,"i":3.8},{"k":2,"w":645,"i":2.1},{"k":2,"w":649,"i":1.5},{"k":2,"w":652,"i":1.1},{"k":2,"w":655,"i":0.9},{"k":2,"w":658,"i":0.7},{"k":2,"w":662,"i":0.5},{"k":2,"w":666,"i":0.38},{"k":2,"w":671,"i":0.26},{"k":2,"w":676,"i":0.2},{"k":2,"w":682,"i":0.3},{"k":2,"w":688,"i":0.14},{"k":2,"w":694,"i":0.28},{"k":2,"w":700,"i":0.12},{"k":2,"w":706,"i":0.32},{"k":2,"w":712,"i":0.15},{"k":2,"w":718,"i":0.27},{"k":2,"w":724,"i":0.12},{"k":2,"w":730,"i":0.33},{"k":2,"w":736,"i":0.14},{"k":2,"w":742,"i":0.26},{"k":2,"w":748,"i":0.11},{"k":2,"w":754,"i":0.34},{"k":2,"w":760,"i":0.15},{"k":2,"w":766,"i":0.28},{"k":2,"w":772,"i":0.12},{"k":2,"w":778,"i":0.25},{"k":2,"w":782,"i":0.15},
{"k":3,"w":557,"i":0.55},{"k":3,"w":563,"i":0.25},{"k":3,"w":569,"i":0.55},{"k":3,"w":575,"i":0.24},{"k":3,"w":581,"i":0.5},{"k":3,"w":587,"i":0.26},{"k":3,"w":593,"i":0.56},{"k":3,"w":599,"i":0.28},{"k":3,"w":604,"i":0.7},{"k":3,"w":608,"i":2.5},{"k":3,"w":612,"i":7},{"k":3,"w":616,"i":13},{"k":3,"w":620,"i":16},{"k":3,"w":624,"i":8},{"k":3,"w":628,"i":5.5},{"k":3,"w":632,"i":5.8},{"k":3,"w":637,"i":6.5},{"k":3,"w":641,"i":4},{"k":3,"w":645,"i":2.5},{"k":3,"w":649,"i":1.8},{"k":3,"w":652,"i":1.4},{"k":3,"w":655,"i":1.1},{"k":3,"w":658,"i":0.85},{"k":3,"w":662,"i":0.65},{"k":3,"w":666,"i":0.55},{"k":3,"w":671,"i":0.42},{"k":3,"w":676,"i":0.36},{"k":3,"w":682,"i":0.28},{"k":3,"w":688,"i":0.5},{"k":3,"w":694,"i":0.26},{"k":3,"w":700,"i":0.48},{"k":3,"w":706,"i":0.27},{"k":3,"w":712,"i":0.52},{"k":3,"w":718,"i":0.25},{"k":3,"w":724,"i":0.47},{"k":3,"w":730,"i":0.27},{"k":3,"w":736,"i":0.5},{"k":3,"w":742,"i":0.24},{"k":3,"w":748,"i":0.48},{"k":3,"w":754,"i":0.27},{"k":3,"w":760,"i":0.5},{"k":3,"w":766,"i":0.25},{"k":3,"w":772,"i":0.47},{"k":3,"w":778,"i":0.26},{"k":3,"w":782,"i":0.44},
{"k":4,"w":557,"i":0.6},{"k":4,"w":563,"i":1.0},{"k":4,"w":569,"i":0.45},{"k":4,"w":575,"i":1.1},{"k":4,"w":581,"i":0.55},{"k":4,"w":587,"i":0.9},{"k":4,"w":593,"i":0.5},{"k":4,"w":599,"i":1.1},{"k":4,"w":604,"i":1.3},{"k":4,"w":608,"i":3.5},{"k":4,"w":612,"i":9},{"k":4,"w":616,"i":15},{"k":4,"w":620,"i":19},{"k":4,"w":624,"i":11},{"k":4,"w":628,"i":8},{"k":4,"w":632,"i":9},{"k":4,"w":637,"i":11},{"k":4,"w":641,"i":7},{"k":4,"w":645,"i":4.7},{"k":4,"w":649,"i":3.8},{"k":4,"w":652,"i":3},{"k":4,"w":655,"i":2.5},{"k":4,"w":658,"i":1.9},{"k":4,"w":662,"i":1.4},{"k":4,"w":666,"i":1.2},{"k":4,"w":671,"i":0.9},{"k":4,"w":676,"i":0.75},{"k":4,"w":682,"i":1.0},{"k":4,"w":688,"i":0.6},{"k":4,"w":694,"i":0.95},{"k":4,"w":700,"i":0.5},{"k":4,"w":706,"i":1.05},{"k":4,"w":712,"i":0.6},{"k":4,"w":718,"i":0.9},{"k":4,"w":724,"i":0.55},{"k":4,"w":730,"i":1.05},{"k":4,"w":736,"i":0.6},{"k":4,"w":742,"i":0.85},{"k":4,"w":748,"i":0.5},{"k":4,"w":754,"i":1.1},{"k":4,"w":760,"i":0.62},{"k":4,"w":766,"i":0.9},{"k":4,"w":772,"i":0.55},{"k":4,"w":778,"i":0.8},{"k":4,"w":782,"i":0.6},
{"k":5,"w":557,"i":2},{"k":5,"w":563,"i":0.9},{"k":5,"w":569,"i":2.1},{"k":5,"w":575,"i":0.85},{"k":5,"w":581,"i":1.9},{"k":5,"w":587,"i":1},{"k":5,"w":593,"i":2.1},{"k":5,"w":599,"i":1},{"k":5,"w":604,"i":2.5},{"k":5,"w":608,"i":9},{"k":5,"w":612,"i":25},{"k":5,"w":616,"i":45},{"k":5,"w":620,"i":56},{"k":5,"w":624,"i":35},{"k":5,"w":628,"i":25},{"k":5,"w":632,"i":28},{"k":5,"w":637,"i":33},{"k":5,"w":641,"i":22},{"k":5,"w":645,"i":15},{"k":5,"w":649,"i":12},{"k":5,"w":652,"i":9},{"k":5,"w":655,"i":7.3},{"k":5,"w":658,"i":5},{"k":5,"w":662,"i":3},{"k":5,"w":666,"i":2.1},{"k":5,"w":671,"i":1.6},{"k":5,"w":676,"i":1.4},{"k":5,"w":682,"i":1.0},{"k":5,"w":688,"i":2},{"k":5,"w":694,"i":0.95},{"k":5,"w":700,"i":1.9},{"k":5,"w":706,"i":1},{"k":5,"w":712,"i":2.1},{"k":5,"w":718,"i":0.95},{"k":5,"w":724,"i":1.8},{"k":5,"w":730,"i":1},{"k":5,"w":736,"i":2},{"k":5,"w":742,"i":0.9},{"k":5,"w":748,"i":1.9},{"k":5,"w":754,"i":1},{"k":5,"w":760,"i":2},{"k":5,"w":766,"i":0.9},{"k":5,"w":772,"i":1.9},{"k":5,"w":778,"i":1},{"k":5,"w":782,"i":1.7},
{"k":6,"w":557,"i":1.6},{"k":6,"w":563,"i":2.6},{"k":6,"w":569,"i":1.2},{"k":6,"w":575,"i":3},{"k":6,"w":581,"i":1.5},{"k":6,"w":587,"i":2.4},{"k":6,"w":593,"i":1.3},{"k":6,"w":599,"i":3},{"k":6,"w":604,"i":3},{"k":6,"w":608,"i":11},{"k":6,"w":612,"i":32},{"k":6,"w":616,"i":70},{"k":6,"w":620,"i":95},{"k":6,"w":624,"i":68},{"k":6,"w":628,"i":55},{"k":6,"w":632,"i":62},{"k":6,"w":637,"i":75},{"k":6,"w":641,"i":65},{"k":6,"w":645,"i":58},{"k":6,"w":649,"i":70},{"k":6,"w":652,"i":90},{"k":6,"w":655,"i":200},{"k":6,"w":658,"i":80},{"k":6,"w":662,"i":14},{"k":6,"w":666,"i":6},{"k":6,"w":671,"i":3.5},{"k":6,"w":676,"i":2.4},{"k":6,"w":682,"i":3},{"k":6,"w":688,"i":1.6},{"k":6,"w":694,"i":2.7},{"k":6,"w":700,"i":1.4},{"k":6,"w":706,"i":3.1},{"k":6,"w":712,"i":1.7},{"k":6,"w":718,"i":2.6},{"k":6,"w":724,"i":1.5},{"k":6,"w":730,"i":3},{"k":6,"w":736,"i":1.6},{"k":6,"w":742,"i":2.4},{"k":6,"w":748,"i":1.3},{"k":6,"w":754,"i":3.1},{"k":6,"w":760,"i":1.7},{"k":6,"w":766,"i":2.6},{"k":6,"w":772,"i":1.5},{"k":6,"w":778,"i":2.2},{"k":6,"w":782,"i":1.7},
{"k":7,"w":557,"i":3.8},{"k":7,"w":563,"i":1.8},{"k":7,"w":569,"i":4},{"k":7,"w":575,"i":1.7},{"k":7,"w":581,"i":3.5},{"k":7,"w":587,"i":1.9},{"k":7,"w":593,"i":4.2},{"k":7,"w":599,"i":2},{"k":7,"w":604,"i":4},{"k":7,"w":608,"i":14},{"k":7,"w":612,"i":40},{"k":7,"w":616,"i":90},{"k":7,"w":620,"i":125},{"k":7,"w":624,"i":90},{"k":7,"w":628,"i":70},{"k":7,"w":632,"i":82},{"k":7,"w":637,"i":98},{"k":7,"w":641,"i":85},{"k":7,"w":645,"i":78},{"k":7,"w":649,"i":100},{"k":7,"w":652,"i":280},{"k":7,"w":655,"i":1400},{"k":7,"w":658,"i":280},{"k":7,"w":662,"i":22},{"k":7,"w":666,"i":9},{"k":7,"w":671,"i":5},{"k":7,"w":676,"i":3.2},{"k":7,"w":682,"i":2.1},{"k":7,"w":688,"i":4},{"k":7,"w":694,"i":1.9},{"k":7,"w":700,"i":3.8},{"k":7,"w":706,"i":2},{"k":7,"w":712,"i":4.2},{"k":7,"w":718,"i":1.9},{"k":7,"w":724,"i":3.6},{"k":7,"w":730,"i":2},{"k":7,"w":736,"i":4},{"k":7,"w":742,"i":1.8},{"k":7,"w":748,"i":3.6},{"k":7,"w":754,"i":2},{"k":7,"w":760,"i":4},{"k":7,"w":766,"i":1.8},{"k":7,"w":772,"i":3.7},{"k":7,"w":778,"i":2},{"k":7,"w":782,"i":3.4},
{"k":8,"w":557,"i":3},{"k":8,"w":563,"i":4.5},{"k":8,"w":569,"i":2.3},{"k":8,"w":575,"i":5.5},{"k":8,"w":581,"i":2.8},{"k":8,"w":587,"i":4.2},{"k":8,"w":593,"i":2.5},{"k":8,"w":599,"i":5.5},{"k":8,"w":604,"i":5},{"k":8,"w":608,"i":17},{"k":8,"w":612,"i":48},{"k":8,"w":616,"i":105},{"k":8,"w":620,"i":150},{"k":8,"w":624,"i":105},{"k":8,"w":628,"i":80},{"k":8,"w":632,"i":95},{"k":8,"w":637,"i":115},{"k":8,"w":641,"i":100},{"k":8,"w":645,"i":90},{"k":8,"w":649,"i":120},{"k":8,"w":652,"i":650},{"k":8,"w":655,"i":7400},{"k":8,"w":658,"i":650},{"k":8,"w":662,"i":28},{"k":8,"w":666,"i":12},{"k":8,"w":671,"i":6.5},{"k":8,"w":676,"i":4.5},{"k":8,"w":682,"i":5.5},{"k":8,"w":688,"i":3},{"k":8,"w":694,"i":5},{"k":8,"w":700,"i":2.8},{"k":8,"w":706,"i":6},{"k":8,"w":712,"i":3.2},{"k":8,"w":718,"i":4.8},{"k":8,"w":724,"i":2.7},{"k":8,"w":730,"i":5.5},{"k":8,"w":736,"i":3.1},{"k":8,"w":742,"i":4.5},{"k":8,"w":748,"i":2.4},{"k":8,"w":754,"i":6},{"k":8,"w":760,"i":3.2},{"k":8,"w":766,"i":4.8},{"k":8,"w":772,"i":2.8},{"k":8,"w":778,"i":4},{"k":8,"w":782,"i":3.2},
{"k":9,"w":557,"i":7},{"k":9,"w":563,"i":3.5},{"k":9,"w":569,"i":7.5},{"k":9,"w":575,"i":3.2},{"k":9,"w":581,"i":6.5},{"k":9,"w":587,"i":3.5},{"k":9,"w":593,"i":8},{"k":9,"w":599,"i":4},{"k":9,"w":604,"i":6},{"k":9,"w":608,"i":20},{"k":9,"w":612,"i":55},{"k":9,"w":616,"i":120},{"k":9,"w":620,"i":170},{"k":9,"w":624,"i":120},{"k":9,"w":628,"i":90},{"k":9,"w":632,"i":105},{"k":9,"w":637,"i":126},{"k":9,"w":641,"i":110},{"k":9,"w":645,"i":100},{"k":9,"w":649,"i":140},{"k":9,"w":652,"i":900},{"k":9,"w":655,"i":10000},{"k":9,"w":658,"i":900},{"k":9,"w":662,"i":35},{"k":9,"w":666,"i":15},{"k":9,"w":671,"i":8},{"k":9,"w":676,"i":5.5},{"k":9,"w":682,"i":3.5},{"k":9,"w":688,"i":7.5},{"k":9,"w":694,"i":3.2},{"k":9,"w":700,"i":7},{"k":9,"w":706,"i":3.5},{"k":9,"w":712,"i":8},{"k":9,"w":718,"i":3.3},{"k":9,"w":724,"i":6.5},{"k":9,"w":730,"i":3.5},{"k":9,"w":736,"i":7.5},{"k":9,"w":742,"i":3},{"k":9,"w":748,"i":6.5},{"k":9,"w":754,"i":3.5},{"k":9,"w":760,"i":7},{"k":9,"w":766,"i":3.2},{"k":9,"w":772,"i":6.5},{"k":9,"w":778,"i":3.5},{"k":9,"w":782,"i":6}
],
"B":[{"f":3.5,"v":1.8,"h":7.27},{"f":35,"v":12.0,"h":7.33},{"f":70,"v":20.4,"h":7.33},{"f":105,"v":24.8,"h":7.63},{"f":140,"v":30.2,"h":7.43},{"f":175,"v":37.1,"h":7.43},{"f":210,"v":48.1,"h":7.43},{"f":245,"v":45.4,"h":7.77},{"f":280,"v":51.4,"h":7.43},{"f":315,"v":52.7,"h":7.6},{"f":350,"v":52.7,"h":7.73}],
"D":[{"f":0.35,"v":0.0,"h":11.8},{"f":3.5,"v":0.01,"h":11.35},{"f":7,"v":0.01,"h":11.95},{"f":10.5,"v":0.02,"h":11.6},{"f":14,"v":0.03,"h":12.15},{"f":17.5,"v":0.04,"h":12.4},{"f":21,"v":0.05,"h":12.7},{"f":28,"v":0.1,"h":4.54},{"f":35,"v":0.22,"h":3.9},{"f":70,"v":1.52,"h":3.13},{"f":140,"v":4.67,"h":3.79},{"f":280,"v":8.63,"h":5.48},{"f":350,"v":13.15,"h":6.35}],
"DL":[{"f":35,"v":0.2},{"f":352,"v":12.3}],
"F":[{"f":0.35,"v":0,"h":9.74},{"f":3.5,"v":0,"h":9.13},{"f":14,"v":0,"h":9.05},{"f":24.5,"v":0,"h":10.26},{"f":35,"v":0,"h":10.57},{"f":70,"v":0.01,"h":10.75},{"f":105,"v":0.02,"h":9.01},{"f":140,"v":1.37,"h":2.96},{"f":175,"v":4.59,"h":4.14},{"f":210,"v":7.4,"h":4.47},{"f":245,"v":10.16,"h":4.42}],
"FL":[{"f":0.35,"v":0},{"f":121,"v":0},{"f":246,"v":10.1}]
},
"concat":[
{"width":140,"height":181,
"layer":[
{"data":{"name":"A"},"mark":{"type":"line","clip":true,"strokeWidth":2,"strokeJoin":"round"},
"encoding":{"x":{"field":"w","type":"quantitative","scale":{"domain":[557,782],"nice":false,"zero":false},"axis":{"values":[600,650,700,750],"title":"Wavelength (nm)","tickSize":-5,"labelPadding":11,"titlePadding":8}},
"y":{"field":"i","type":"quantitative","scale":{"type":"log","domain":[0.01,100],"nice":false},"axis":{"values":[0.01,0.02,0.03,0.04,0.05,0.06,0.07,0.08,0.09,0.1,0.2,0.3,0.4,0.5,0.6,0.7,0.8,0.9,1,2,3,4,5,6,7,8,9,10,20,30,40,50,60,70,80,90,100],"labelExpr":"datum.value==0.01?'10⁻²':datum.value==0.1?'10⁻¹':datum.value==1?'10⁰':datum.value==10?'10¹':datum.value==100?'10²':datum.value==1000?'10³':datum.value==10000?'10⁴':''","labelOverlap":false,"tickSize":{"condition":{"test":"indexof([0.01,0.1,1,10,100,1000,10000],datum.value)>=0","value":-5},"value":-2.5},"labelPadding":8,"title":"Intensity (arb. units)","titlePadding":4}},
"color":{"field":"k","type":"ordinal","scale":{"domain":[0,1,2,3,4,5,6,7,8],"range":["#f2d614","#fbb735","#e3b042","#c9b455","#9fbd6e","#4eb896","#1ba9bf","#1388d6","#1160d2"]},"legend":null}}},
{"data":{"values":[{"w":603,"i":0.117,"w2":650.8,"i2":4.6}]},"mark":{"type":"rule","color":"#000","strokeWidth":1.5},
"encoding":{"x":{"field":"w","type":"quantitative","scale":{"domain":[557,782],"nice":false,"zero":false},"axis":{"orient":"top","values":[600,650,700,750],"labels":false,"title":null,"tickSize":-5}},
"y":{"field":"i","type":"quantitative","scale":{"type":"log","domain":[0.01,100],"nice":false},"axis":{"orient":"right","values":[0.01,0.02,0.03,0.04,0.05,0.06,0.07,0.08,0.09,0.1,0.2,0.3,0.4,0.5,0.6,0.7,0.8,0.9,1,2,3,4,5,6,7,8,9,10,20,30,40,50,60,70,80,90,100],"labels":false,"title":null,"tickSize":{"condition":{"test":"indexof([0.01,0.1,1,10,100,1000,10000],datum.value)>=0","value":-5},"value":-2.5}}},
"x2":{"field":"w2"},"y2":{"field":"i2"}}},
{"data":{"values":[{"w":650.8,"i":4.6}]},"mark":{"type":"point","shape":"triangle-up","filled":true,"color":"#000","opacity":1,"size":45,"angle":22},
"encoding":{"x":{"field":"w","type":"quantitative","scale":{"domain":[557,782],"nice":false,"zero":false},"axis":null},"y":{"field":"i","type":"quantitative","scale":{"type":"log","domain":[0.01,100],"nice":false},"axis":null}}},
{"data":{"values":[{"w":600,"i":0.083,"t":"3.5"},{"w":659,"i":8.1,"t":"350"}]},"mark":{"type":"text","fontSize":12.5,"color":"#22395e"},
"encoding":{"x":{"field":"w","type":"quantitative","scale":{"domain":[557,782],"nice":false,"zero":false},"axis":null},"y":{"field":"i","type":"quantitative","scale":{"type":"log","domain":[0.01,100],"nice":false},"axis":null},"text":{"field":"t","type":"nominal"}}},
{"data":{"values":[{"w":491.6,"i":189,"t":"(a)"},{"w":669.5,"i":189,"t":"BA₂SnI₄"}]},"mark":{"type":"text","fontSize":15.5,"color":"#1a1a1a"},
"encoding":{"x":{"field":"w","type":"quantitative","scale":{"domain":[557,782],"nice":false,"zero":false},"axis":null},"y":{"field":"i","type":"quantitative","scale":{"type":"log","domain":[0.01,100],"nice":false},"axis":null},"text":{"field":"t","type":"nominal"}}}
],
"resolve":{"axis":{"x":"independent","y":"independent"}}},
{"width":140,"height":181,
"layer":[
{"data":{"name":"C"},"mark":{"type":"line","clip":true,"strokeWidth":2,"strokeJoin":"round"},
"encoding":{"x":{"field":"w","type":"quantitative","scale":{"domain":[557,782],"nice":false,"zero":false},"axis":{"values":[600,650,700,750],"title":"Wavelength (nm)","tickSize":-5,"labelPadding":11,"titlePadding":8}},
"y":{"field":"i","type":"quantitative","scale":{"type":"log","domain":[0.01,35000],"nice":false},"axis":{"values":[0.01,0.02,0.03,0.04,0.05,0.06,0.07,0.08,0.09,0.1,0.2,0.3,0.4,0.5,0.6,0.7,0.8,0.9,1,2,3,4,5,6,7,8,9,10,20,30,40,50,60,70,80,90,100,200,300,400,500,600,700,800,900,1000,2000,3000,4000,5000,6000,7000,8000,9000,10000,20000,30000],"labelExpr":"datum.value==0.01?'10⁻²':datum.value==0.1?'10⁻¹':datum.value==1?'10⁰':datum.value==10?'10¹':datum.value==100?'10²':datum.value==1000?'10³':datum.value==10000?'10⁴':''","labelOverlap":false,"tickSize":{"condition":{"test":"indexof([0.01,0.1,1,10,100,1000,10000],datum.value)>=0","value":-5},"value":-2.5},"labelPadding":8,"title":"Intensity (arb. units)","titlePadding":4}},
"color":{"field":"k","type":"ordinal","scale":{"domain":[0,1,2,3,4,5,6,7,8,9],"range":["#f7e917","#f5d318","#fbc42c","#f7b535","#deb44a","#8fbf73","#2cb4a3","#0d9dcd","#1479d9","#1055d0"]},"legend":null}}},
{"data":{"values":[{"w":657,"i":0.149,"w2":721.1,"i2":47.2}]},"mark":{"type":"rule","color":"#000","strokeWidth":1.5},
"encoding":{"x":{"field":"w","type":"quantitative","scale":{"domain":[557,782],"nice":false,"zero":false},"axis":{"orient":"top","values":[600,650,700,750],"labels":false,"title":null,"tickSize":-5}},
"y":{"field":"i","type":"quantitative","scale":{"type":"log","domain":[0.01,35000],"nice":false},"axis":{"orient":"right","values":[0.01,0.02,0.03,0.04,0.05,0.06,0.07,0.08,0.09,0.1,0.2,0.3,0.4,0.5,0.6,0.7,0.8,0.9,1,2,3,4,5,6,7,8,9,10,20,30,40,50,60,70,80,90,100,200,300,400,500,600,700,800,900,1000,2000,3000,4000,5000,6000,7000,8000,9000,10000,20000,30000],"labels":false,"title":null,"tickSize":{"condition":{"test":"indexof([0.01,0.1,1,10,100,1000,10000],datum.value)>=0","value":-5},"value":-2.5}}},
"x2":{"field":"w2"},"y2":{"field":"i2"}}},
{"data":{"values":[{"w":721.1,"i":47.2}]},"mark":{"type":"point","shape":"triangle-up","filled":true,"color":"#000","opacity":1,"size":45,"angle":30},
"encoding":{"x":{"field":"w","type":"quantitative","scale":{"domain":[557,782],"nice":false,"zero":false},"axis":null},"y":{"field":"i","type":"quantitative","scale":{"type":"log","domain":[0.01,35000],"nice":false},"axis":null}}},
{"data":{"values":[{"w":649.6,"i":0.049,"t":"0.35"},{"w":736.7,"i":155,"t":"350"}]},"mark":{"type":"text","fontSize":12.5,"color":"#22395e"},
"encoding":{"x":{"field":"w","type":"quantitative","scale":{"domain":[557,782],"nice":false,"zero":false},"axis":null},"y":{"field":"i","type":"quantitative","scale":{"type":"log","domain":[0.01,35000],"nice":false},"axis":null},"text":{"field":"t","type":"nominal"}}},
{"data":{"values":[{"w":479.4,"i":99000,"t":"(c)"},{"w":669.5,"i":99000,"t":"PEA₂SnI₄"}]},"mark":{"type":"text","fontSize":15.5,"color":"#1a1a1a"},
"encoding":{"x":{"field":"w","type":"quantitative","scale":{"domain":[557,782],"nice":false,"zero":false},"axis":null},"y":{"field":"i","type":"quantitative","scale":{"type":"log","domain":[0.01,35000],"nice":false},"axis":null},"text":{"field":"t","type":"nominal"}}}
],
"resolve":{"axis":{"x":"independent","y":"independent"}}},
{"width":140,"height":181,
"layer":[
{"data":{"name":"E"},"mark":{"type":"line","clip":true,"strokeWidth":2,"strokeJoin":"round"},
"encoding":{"x":{"field":"w","type":"quantitative","scale":{"domain":[557,782],"nice":false,"zero":false},"axis":{"values":[600,650,700,750],"title":"Wavelength (nm)","tickSize":-5,"labelPadding":11,"titlePadding":8}},
"y":{"field":"i","type":"quantitative","scale":{"type":"log","domain":[0.01,35000],"nice":false},"axis":{"values":[0.01,0.02,0.03,0.04,0.05,0.06,0.07,0.08,0.09,0.1,0.2,0.3,0.4,0.5,0.6,0.7,0.8,0.9,1,2,3,4,5,6,7,8,9,10,20,30,40,50,60,70,80,90,100,200,300,400,500,600,700,800,900,1000,2000,3000,4000,5000,6000,7000,8000,9000,10000,20000,30000],"labelExpr":"datum.value==0.01?'10⁻²':datum.value==0.1?'10⁻¹':datum.value==1?'10⁰':datum.value==10?'10¹':datum.value==100?'10²':datum.value==1000?'10³':datum.value==10000?'10⁴':''","labelOverlap":false,"tickSize":{"condition":{"test":"indexof([0.01,0.1,1,10,100,1000,10000],datum.value)>=0","value":-5},"value":-2.5},"labelPadding":8,"title":"Intensity (arb. units)","titlePadding":4}},
"color":{"field":"k","type":"ordinal","scale":{"domain":[0,1,2,3,4,5,6,7,8,9],"range":["#f6e81a","#f8d21f","#fbbd2e","#d1b553","#48b892","#1fb3a4","#0ea6c3","#0b93d4","#1474d9","#1055cf"]},"legend":null}}},
{"data":{"values":[{"w":638.3,"i":0.149,"w2":700.9,"i2":41}]},"mark":{"type":"rule","color":"#000","strokeWidth":1.5},
"encoding":{"x":{"field":"w","type":"quantitative","scale":{"domain":[557,782],"nice":false,"zero":false},"axis":{"orient":"top","values":[600,650,700,750],"labels":false,"title":null,"tickSize":-5}},
"y":{"field":"i","type":"quantitative","scale":{"type":"log","domain":[0.01,35000],"nice":false},"axis":{"orient":"right","values":[0.01,0.02,0.03,0.04,0.05,0.06,0.07,0.08,0.09,0.1,0.2,0.3,0.4,0.5,0.6,0.7,0.8,0.9,1,2,3,4,5,6,7,8,9,10,20,30,40,50,60,70,80,90,100,200,300,400,500,600,700,800,900,1000,2000,3000,4000,5000,6000,7000,8000,9000,10000,20000,30000],"labels":false,"title":null,"tickSize":{"condition":{"test":"indexof([0.01,0.1,1,10,100,1000,10000],datum.value)>=0","value":-5},"value":-2.5}}},
"x2":{"field":"w2"},"y2":{"field":"i2"}}},
{"data":{"values":[{"w":700.9,"i":41}]},"mark":{"type":"point","shape":"triangle-up","filled":true,"color":"#000","opacity":1,"size":45,"angle":30},
"encoding":{"x":{"field":"w","type":"quantitative","scale":{"domain":[557,782],"nice":false,"zero":false},"axis":null},"y":{"field":"i","type":"quantitative","scale":{"type":"log","domain":[0.01,35000],"nice":false},"axis":null}}},
{"data":{"values":[{"w":633.6,"i":0.037,"t":"0.35"},{"w":711.6,"i":118,"t":"280"}]},"mark":{"type":"text","fontSize":12.5,"color":"#22395e"},
"encoding":{"x":{"field":"w","type":"quantitative","scale":{"domain":[557,782],"nice":false,"zero":false},"axis":null},"y":{"field":"i","type":"quantitative","scale":{"type":"log","domain":[0.01,35000],"nice":false},"axis":null},"text":{"field":"t","type":"nominal"}}},
{"data":{"values":[{"w":489,"i":99000,"t":"(e)"},{"w":669.5,"i":99000,"t":"NMA₂SnI₄"}]},"mark":{"type":"text","fontSize":15.5,"color":"#1a1a1a"},
"encoding":{"x":{"field":"w","type":"quantitative","scale":{"domain":[557,782],"nice":false,"zero":false},"axis":null},"y":{"field":"i","type":"quantitative","scale":{"type":"log","domain":[0.01,35000],"nice":false},"axis":null},"text":{"field":"t","type":"nominal"}}}
],
"resolve":{"axis":{"x":"independent","y":"independent"}}},
{"width":140,"height":179,
"layer":[
{"data":{"name":"B"},"mark":{"type":"point","shape":"circle","filled":true,"size":110,"fill":"#8d9df3","fillOpacity":0.85,"stroke":"#5d6ef0","strokeWidth":1.3,"opacity":1},
"encoding":{"x":{"field":"f","type":"quantitative","scale":{"domain":[-40,390],"nice":false,"zero":false},"axis":{"values":[0,100,200,300],"title":"Fluence (µJ/cm²)","tickSize":-5,"labelPadding":14,"titlePadding":6}},
"y":{"field":"v","type":"quantitative","scale":{"domain":[-4.6,60.3],"nice":false,"zero":false},"axis":{"values":[0,20,40,60],"title":"Intensity (arb. units)","domain":true,"domainColor":"#6677ee","domainWidth":2,"tickColor":"#6677ee","labelColor":"#6677ee","titleColor":"#6677ee","tickSize":-5,"labelPadding":12,"titlePadding":6}}}},
{"data":{"name":"B"},"mark":{"type":"point","shape":"diamond","filled":true,"size":90,"fill":"#f6a08f","stroke":"#f3553a","strokeWidth":1.3,"opacity":1},
"encoding":{"x":{"field":"f","type":"quantitative","scale":{"domain":[-40,390],"nice":false,"zero":false},"axis":{"orient":"top","values":[0,100,200,300],"labels":false,"title":null,"tickSize":-5}},
"y":{"field":"h","type":"quantitative","scale":{"domain":[0,18.1],"nice":false,"zero":false},"axis":{"orient":"right","values":[0,5,10,15],"title":"FWHM (nm)","domain":true,"domainColor":"#f2563c","domainWidth":2,"tickColor":"#f2563c","labelColor":"#f2563c","titleColor":"#f2563c","tickSize":-5,"labelPadding":9,"titlePadding":8,"titleAngle":270,"titleBaseline":"top"}}}},
{"data":{"values":[{"f":-165,"v":71.5,"t":"(b)"}]},"mark":{"type":"text","fontSize":15.5,"color":"#1a1a1a"},
"encoding":{"x":{"field":"f","type":"quantitative","scale":{"domain":[-40,390],"nice":false,"zero":false},"axis":null},"y":{"field":"v","type":"quantitative","scale":{"domain":[-4.6,60.3],"nice":false,"zero":false},"axis":null},"text":{"field":"t","type":"nominal"}}}
],
"resolve":{"scale":{"y":"independent"},"axis":{"x":"independent","y":"independent"}}},
{"width":140,"height":179,
"layer":[
{"data":{"name":"DL"},"mark":{"type":"line","color":"#a3b0f7","strokeWidth":4.5,"opacity":0.85,"strokeCap":"round"},
"encoding":{"x":{"field":"f","type":"quantitative","scale":{"domain":[-40,390],"nice":false,"zero":false},"axis":null},"y":{"field":"v","type":"quantitative","scale":{"domain":[-1.3,14.4],"nice":false,"zero":false},"axis":null}}},
{"data":{"name":"D"},"mark":{"type":"point","shape":"circle","filled":true,"size":110,"fill":"#8d9df3","fillOpacity":0.85,"stroke":"#5d6ef0","strokeWidth":1.3,"opacity":1},
"encoding":{"x":{"field":"f","type":"quantitative","scale":{"domain":[-40,390],"nice":false,"zero":false},"axis":{"values":[0,100,200,300],"title":"Fluence (µJ/cm²)","tickSize":-5,"labelPadding":14,"titlePadding":6}},
"y":{"field":"v","type":"quantitative","scale":{"domain":[-1.3,14.4],"nice":false,"zero":false},"axis":{"values":[0,5,10],"title":"Intensity (10³ arb. units)","domain":true,"domainColor":"#6677ee","domainWidth":2,"tickColor":"#6677ee","labelColor":"#6677ee","titleColor":"#6677ee","tickSize":-5,"labelPadding":12,"titlePadding":6}}}},
{"data":{"name":"D"},"mark":{"type":"point","shape":"diamond","filled":true,"size":90,"fill":"#f6a08f","stroke":"#f3553a","strokeWidth":1.3,"opacity":1},
"encoding":{"x":{"field":"f","type":"quantitative","scale":{"domain":[-40,390],"nice":false,"zero":false},"axis":{"orient":"top","values":[0,100,200,300],"labels":false,"title":null,"tickSize":-5}},
"y":{"field":"h","type":"quantitative","scale":{"domain":[2.2,13.45],"nice":false,"zero":false},"axis":{"orient":"right","values":[5,10],"title":"FWHM (nm)","domain":true,"domainColor":"#f2563c","domainWidth":2,"tickColor":"#f2563c","labelColor":"#f2563c","titleColor":"#f2563c","tickSize":-5,"labelPadding":9,"titlePadding":8,"titleAngle":270,"titleBaseline":"top"}}}},
{"data":{"values":[{"f":-147,"v":16.7,"t":"(d)"}]},"mark":{"type":"text","fontSize":15.5,"color":"#1a1a1a"},
"encoding":{"x":{"field":"f","type":"quantitative","scale":{"domain":[-40,390],"nice":false,"zero":false},"axis":null},"y":{"field":"v","type":"quantitative","scale":{"domain":[-1.3,14.4],"nice":false,"zero":false},"axis":null},"text":{"field":"t","type":"nominal"}}}
],
"resolve":{"scale":{"y":"independent"},"axis":{"x":"independent","y":"independent"}}},
{"width":140,"height":179,
"layer":[
{"data":{"name":"FL"},"mark":{"type":"line","color":"#a3b0f7","strokeWidth":4.5,"opacity":0.85,"strokeCap":"round"},
"encoding":{"x":{"field":"f","type":"quantitative","scale":{"domain":[-29,275],"nice":false,"zero":false},"axis":null},"y":{"field":"v","type":"quantitative","scale":{"domain":[-1.03,11.2],"nice":false,"zero":false},"axis":null}}},
{"data":{"name":"F"},"mark":{"type":"point","shape":"circle","filled":true,"size":110,"fill":"#8d9df3","fillOpacity":0.85,"stroke":"#5d6ef0","strokeWidth":1.3,"opacity":1},
"encoding":{"x":{"field":"f","type":"quantitative","scale":{"domain":[-29,275],"nice":false,"zero":false},"axis":{"values":[0,100,200],"title":"Fluence (µJ/cm²)","tickSize":-5,"labelPadding":14,"titlePadding":6}},
"y":{"field":"v","type":"quantitative","scale":{"domain":[-1.03,11.2],"nice":false,"zero":false},"axis":{"values":[0,5,10],"title":"Intensity (10³ arb. units)","domain":true,"domainColor":"#6677ee","domainWidth":2,"tickColor":"#6677ee","labelColor":"#6677ee","titleColor":"#6677ee","tickSize":-5,"labelPadding":12,"titlePadding":6}}}},
{"data":{"name":"F"},"mark":{"type":"point","shape":"diamond","filled":true,"size":90,"fill":"#f6a08f","stroke":"#f3553a","strokeWidth":1.3,"opacity":1},
"encoding":{"x":{"field":"f","type":"quantitative","scale":{"domain":[-29,275],"nice":false,"zero":false},"axis":{"orient":"top","values":[0,100,200],"labels":false,"title":null,"tickSize":-5}},
"y":{"field":"h","type":"quantitative","scale":{"domain":[2.17,11.48],"nice":false,"zero":false},"axis":{"orient":"right","values":[4,6,8,10],"title":"FWHM (nm)","domain":true,"domainColor":"#f2563c","domainWidth":2,"tickColor":"#f2563c","labelColor":"#f2563c","titleColor":"#f2563c","tickSize":-5,"labelPadding":9,"titlePadding":8,"titleAngle":270,"titleBaseline":"top"}}}},
{"data":{"values":[{"f":-105,"v":12.86,"t":"(f)"}]},"mark":{"type":"text","fontSize":15.5,"color":"#1a1a1a"},
"encoding":{"x":{"field":"f","type":"quantitative","scale":{"domain":[-29,275],"nice":false,"zero":false},"axis":null},"y":{"field":"v","type":"quantitative","scale":{"domain":[-1.03,11.2],"nice":false,"zero":false},"axis":null},"text":{"field":"t","type":"nominal"}}}
],
"resolve":{"scale":{"y":"independent"},"axis":{"x":"independent","y":"independent"}}}
],
"columns":3,
"spacing":{"row":97,"column":107},
"bounds":"flush",
"resolve":{"scale":{"color":"independent"}}
}
